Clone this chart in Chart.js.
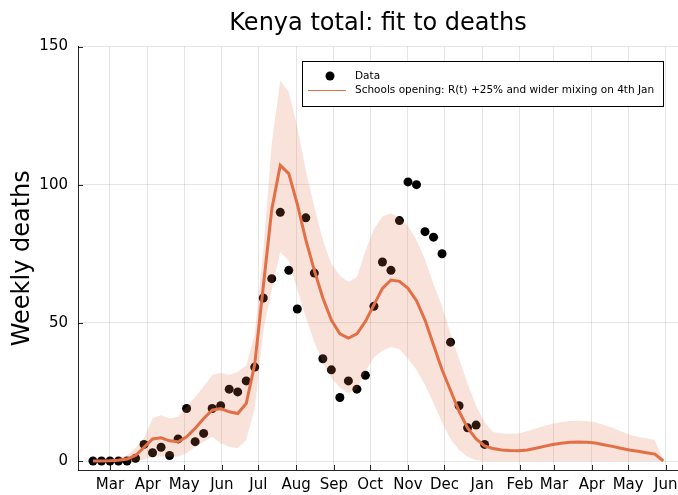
<!DOCTYPE html>
<html>
<head>
<meta charset="utf-8">
<title>Kenya total: fit to deaths</title>
<script src="https://cdn.jsdelivr.net/npm/chart.js@4/dist/chart.umd.min.js"></script>
<style>
  html, body { margin: 0; padding: 0; background: #fff; }
</style>
</head>
<body>
<canvas id="grafico" width="678" height="495"></canvas>
<script>
// DATOS: x in days since 1 Mar 2020, one value per week from 16 Feb 2020
const firstWeekDay = -14;
const weeklyDeaths = [0, 0, 0, 0, 0, 1, 6, 3, 5, 2,
  8, 19, 7, 10, 19, 20, 26, 25, 29, 34,
  59, 66, 90, 69, 55, 88, 68, 37, 33, 23,
  29, 26, 31, 56, 72, 69, 87, 101, 100, 83,
  81, 75, 43, 20, 12, 13, 6];
const fitMedian = [0, 0, 0.1, 0.3, 0.7, 2, 5, 8, 8.4, 7.3,
  7, 8.8, 11.8, 15.4, 18.4, 19, 17.8, 17.2, 20.8, 35,
  63, 91, 107, 104, 93, 80, 69, 59, 51, 46,
  44.5, 46, 50.5, 56.5, 62.5, 65.5, 65, 62.5, 58, 51,
  42, 33, 25.5, 18, 12, 8, 5.5, 4.5, 4, 3.8,
  3.7, 4, 4.6, 5.3, 6, 6.4, 6.8, 6.9, 6.8, 6.5,
  5.9, 5.3, 4.6, 4, 3.5, 3, 2.5, 0];
const fitUpper = [0.5, 0.5, 0.8, 1.2, 2, 4.7, 8.2, 15.5, 16.6, 15.4,
  16, 19.6, 23.2, 26.9, 31.1, 31.9, 31.1, 32.3, 34.5, 46,
  76, 115, 137.7, 133.5, 121, 105, 92, 80, 71.4, 67,
  64.8, 66.6, 76, 84, 88.5, 89.7, 88, 85, 80, 73,
  64, 56, 46, 37, 28, 20, 14, 10.5, 10, 9.9,
  10, 10.8, 11.8, 12.7, 13.5, 14.1, 14.5, 14.6, 14.4, 14,
  13, 12, 10.8, 9.5, 8.8, 8.2, 7.6, 0];
const fitLower = [0, 0, 0, 0, 0, 0, 0.6, 1.6, 1.6, 1.5,
  1.6, 2.8, 5.2, 7, 8.8, 6.4, 5.2, 4.6, 7.6, 19,
  47, 62, 75.6, 72.6, 62, 52, 43, 35.5, 30, 26.5,
  24.5, 26, 32.5, 37.5, 40, 41.3, 40.5, 37, 33, 27.5,
  21, 14, 8, 4, 1.5, 0.3, 0, 0, 0, 0,
  0, 0, 0, 0, 0, 0, 0, 0, 0, 0,
  0, 0, 0, 0, 0, 0, 0, 0];
const monthDays = [0, 31, 61, 92, 122, 153, 184, 214, 245, 275, 306, 337, 365, 396, 426, 457];
const monthLabels = ['Mar', 'Apr', 'May', 'Jun', 'Jul', 'Aug', 'Sep', 'Oct', 'Nov', 'Dec',
  'Jan', 'Feb', 'Mar', 'Apr', 'May', 'Jun'];
const yTicks = [0, 50, 100, 150];
const seriesNames = ['Data', 'Schools opening: R(t) +25% and wider mixing on 4th Jan'];

const lineColor = '#e26f46';
const bandColor = 'rgba(226, 111, 70, 0.2)';
const axisColor = 'rgba(0, 0, 0, 0.85)';

const toPoints = (values) => values.map((v, i) => ({ x: firstWeekDay + 7 * i, y: v }));

// MARCAS HACIA DENTRO Y ETIQUETAS DE MESES
// (month labels drawn here so the last one can hang over the edge without shrinking the plot)
const innerTicks = {
  id: 'innerTicks',
  afterDraw(chart) {
    const { ctx, chartArea, scales } = chart;
    ctx.save();
    ctx.strokeStyle = axisColor;
    ctx.lineWidth = 1;
    ctx.beginPath();
    scales.x.ticks.forEach((t) => {
      const px = Math.round(scales.x.getPixelForValue(t.value)) + 0.5;
      ctx.moveTo(px, chartArea.bottom);
      ctx.lineTo(px, chartArea.bottom - 5);
    });
    scales.y.ticks.forEach((t) => {
      const py = Math.round(scales.y.getPixelForValue(t.value)) + 0.5;
      ctx.moveTo(chartArea.left, py);
      ctx.lineTo(chartArea.left + 5, py);
    });
    ctx.stroke();
    ctx.fillStyle = '#000';
    ctx.font = '15px "DejaVu Sans"';
    ctx.textAlign = 'center';
    ctx.textBaseline = 'top';
    monthDays.forEach((d, i) => {
      ctx.fillText(monthLabels[i], scales.x.getPixelForValue(d), chartArea.bottom + 8);
    });
    ctx.restore();
  }
};

const boxLegend = {
  id: 'boxLegend',
  afterDraw(chart) {
    const { ctx, chartArea } = chart;
    const x0 = Math.round(chartArea.right - 376);
    const y0 = Math.round(chartArea.top + 14.5);
    ctx.save();
    ctx.fillStyle = '#fff';
    ctx.fillRect(x0, y0, 361, 45);
    ctx.strokeStyle = '#000';
    ctx.lineWidth = 1;
    ctx.strokeRect(x0 + 0.5, y0 + 0.5, 361, 45);
    ctx.fillStyle = '#000';
    ctx.beginPath();
    ctx.arc(x0 + 28, y0 + 15, 4.5, 0, Math.PI * 2);
    ctx.fill();
    ctx.strokeStyle = lineColor;
    ctx.beginPath();
    ctx.moveTo(x0 + 6, y0 + 29.5);
    ctx.lineTo(x0 + 44, y0 + 29.5);
    ctx.stroke();
    ctx.fillStyle = '#000';
    ctx.font = '10.5px "DejaVu Sans"';
    ctx.textBaseline = 'middle';
    ctx.fillText(seriesNames[0], x0 + 53, y0 + 15);
    ctx.fillText(seriesNames[1], x0 + 53, y0 + 29);
    ctx.restore();
  }
};

Chart.defaults.font.family = '"DejaVu Sans", sans-serif';
Chart.defaults.color = '#000';

new Chart(document.getElementById('grafico'), {
  type: 'line',
  data: {
    datasets: [
      {
        label: seriesNames[0],
        data: toPoints(weeklyDeaths),
        showLine: false,
        pointRadius: 4.5,
        pointBorderWidth: 0,
        pointBackgroundColor: '#000',
        order: 4
      },
      {
        label: 'lower',
        data: toPoints(fitLower),
        borderWidth: 0,
        pointRadius: 0,
        fill: false,
        order: 3
      },
      {
        label: 'upper',
        data: toPoints(fitUpper),
        borderWidth: 0,
        pointRadius: 0,
        backgroundColor: bandColor,
        fill: '-1',
        order: 2
      },
      {
        label: seriesNames[1],
        data: toPoints(fitMedian),
        borderColor: lineColor,
        borderWidth: 3,
        pointRadius: 0,
        tension: 0,
        fill: false,
        order: 1
      }
    ]
  },
  options: {
    responsive: false,
    animation: false,
    layout: { padding: 0, autoPadding: false },
    plugins: {
      legend: { display: false },
      tooltip: { enabled: false },
      title: {
        display: true,
        fullSize: false,
        text: 'Kenya total: fit to deaths',
        font: { size: 24, weight: 'normal' },
        padding: { top: 9, bottom: 8.7 }
      }
    },
    scales: {
      x: {
        type: 'linear',
        min: -26.3,
        max: 467,
        afterBuildTicks: (scale) => { scale.ticks = monthDays.map((v) => ({ value: v })); },
        afterFit: (scale) => { scale.height = 25; },
        ticks: { display: false },
        grid: { color: 'rgba(0,0,0,0.1)', drawTicks: false },
        border: { display: true, color: axisColor }
      },
      y: {
        min: -3.25,
        max: 150,
        afterBuildTicks: (scale) => { scale.ticks = yTicks.map((v) => ({ value: v })); },
        afterFit: (scale) => { scale.width = 78; },
        ticks: { padding: 10, font: { size: 15 } },
        grid: { color: 'rgba(0,0,0,0.1)', drawTicks: false },
        border: { display: true, color: axisColor },
        title: {
          display: true,
          text: 'Weekly deaths',
          font: { size: 24 },
          padding: { top: 8, bottom: 0 }
        }
      }
    }
  },
  plugins: [innerTicks, boxLegend]
});
</script>
</body>
</html>
